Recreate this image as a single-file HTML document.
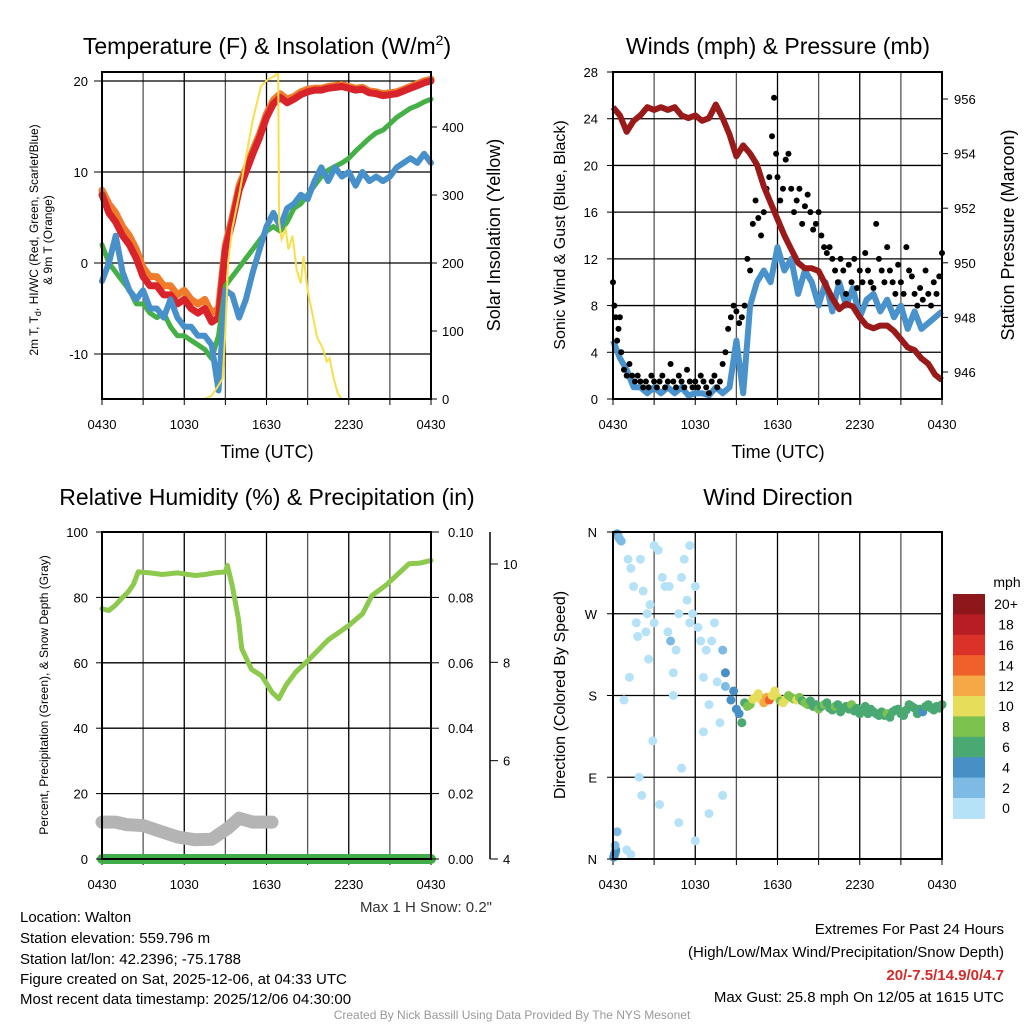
<!DOCTYPE html>
<html><head><meta charset="utf-8">
<style>
html,body{margin:0;padding:0;background:#fff;}
svg{display:block;font-family:"Liberation Sans",Arial,sans-serif;}
</style></head>
<body>
<svg id="fig" width="1024" height="1024" viewBox="0 0 1024 1024">
<rect x="0" y="0" width="1024" height="1024" fill="#fff"/>
<g font-size="23" text-anchor="middle" fill="#000">
<text x="267" y="54">Temperature (F) &amp; Insolation (W/m<tspan dy="-9" font-size="14">2</tspan><tspan dy="9">)</tspan></text>
<text x="778" y="54">Winds (mph) &amp; Pressure (mb)</text>
<text x="267" y="505">Relative Humidity (%) &amp; Precipitation (in)</text>
<text x="778" y="505">Wind Direction</text>
</g>
<g font-size="18" text-anchor="middle">
<text x="267" y="458">Time (UTC)</text>
<text x="778" y="458">Time (UTC)</text>
<text transform="translate(500,235) rotate(-90)">Solar Insolation (Yellow)</text>
<text transform="translate(1014,235) rotate(-90)">Station Pressure (Maroon)</text>
</g>
<g font-size="16" text-anchor="middle">
<text transform="translate(565,235) rotate(-90)">Sonic Wind &amp; Gust (Blue, Black)</text>
<text transform="translate(565,695) rotate(-90)">Direction (Colored By Speed)</text>
</g>
<g font-size="12" text-anchor="middle">
<text transform="translate(38,240) rotate(-90)">2m T, T<tspan font-size="9" dy="3">d</tspan><tspan dy="-3">, HI/WC (Red, Green, Scarlet/Blue)</tspan></text>
<text transform="translate(52,240) rotate(-90)">&amp; 9m T (Orange)</text>
<text transform="translate(48,695) rotate(-90)">Percent, Precipitation (Green), &amp; Snow Depth (Gray)</text>
</g>
<text x="492" y="912" font-size="15" text-anchor="end" fill="#333">Max 1 H Snow: 0.2"</text>
<g font-size="15" fill="#000">
<text x="20" y="922">Location: Walton</text>
<text x="20" y="943">Station elevation: 559.796 m</text>
<text x="20" y="964">Station lat/lon: 42.2396; -75.1788</text>
<text x="20" y="984">Figure created on Sat, 2025-12-06, at 04:33 UTC</text>
<text x="20" y="1004">Most recent data timestamp: 2025/12/06 04:30:00</text>
</g>
<g font-size="15" text-anchor="end">
<text x="1004" y="934">Extremes For Past 24 Hours</text>
<text x="1004" y="957">(High/Low/Max Wind/Precipitation/Snow Depth)</text>
<text x="1004" y="980" fill="#d42a2a" font-weight="bold">20/-7.5/14.9/0/4.7</text>
<text x="1004" y="1002">Max Gust: 25.8 mph On 12/05 at 1615 UTC</text>
</g>
<text x="512" y="1019" font-size="12" text-anchor="middle" fill="#999">Created By Nick Bassill Using Data Provided By The NYS Mesonet</text>
</svg>
<script>
// ---------- data ----------
const halfHours = [0,0.5,1,1.5,2,2.5,3,3.5,4,4.5,5,5.5,6,6.5,7,7.5,8,8.5,9,9.5,10,10.5,11,11.5,12,12.5,13,13.5,14,14.5,15,15.5,16,16.5,17,17.5,18,18.5,19,19.5,20,20.5,21,21.5,22,22.5,23,23.5,24];
const timeTickLabels = ["0430","1030","1630","2230","0430"];
const tempRed = [7.5,5.5,4.5,3,2,0.5,-1.5,-2.5,-2.5,-3.5,-3.5,-4.5,-4,-5,-5.5,-5,-6.5,-6,1.5,4.5,8,10,12,13.8,16,17.5,18.2,17.6,18,18.5,18.8,19,19,19.2,19.3,19.4,19.2,19.0,19.1,18.7,18.6,18.4,18.5,18.6,18.9,19.2,19.5,19.8,20];
const tempOrange = [8,6.5,5.5,4,3,1.5,-0.5,-1.5,-1.5,-2.5,-2.5,-3.5,-3,-4,-4.5,-4,-5.5,-5,2,5,8.5,10.4,12.4,14.2,16.4,17.9,18.6,18,18.3,18.8,19.1,19.2,19.2,19.4,19.5,19.6,19.4,19.2,19.3,18.9,18.8,18.6,18.7,18.8,19.1,19.4,19.7,20,20.2];
const tempGreen = [2,0,-1,-2,-3,-4.5,-4.5,-5.5,-6,-5.5,-7,-8,-8,-8.5,-9,-9.5,-10.5,-8,-2.5,-1.5,-0.5,0.5,1.5,2.5,3.5,4,3.5,4.5,6,6.5,7.5,8.5,9.5,10.2,10.6,11,11.5,12.3,13,13.7,14.3,14.6,15.3,16,16.5,17,17.3,17.7,18];
const tempBlue = [-2,0,3,-1,-3,-4,-3,-5,-5,-6,-4,-6,-7,-7,-8,-8,-9,-14,-3,-3.5,-6,-4,-1,1.5,4,5.5,4,6,6.5,7.5,7,9,10.5,9,10.5,9.5,10,8.5,10,9,9.5,9,9.5,10.5,11,11.5,11,12,11];
const solarTimes = [0,7.5,8,8.5,8.8,9.0,9.2,9.5,10,10.4,11,11.6,12.1,12.6,12.85,12.92,13.1,13.4,13.6,13.9,14.2,14.5,14.7,15.0,15.4,15.7,16.1,16.4,16.6,16.9,17.2,17.5,24];
const solarValues = [0,0,5,20,30,100,200,250,300,345,410,460,470,475,480,260,235,250,220,240,190,170,210,160,120,90,75,55,60,30,8,0,0];
const windSpeed = [5,3.5,2.5,1,1,0.5,1,0.5,1,0.5,1,0.3,0.5,0.5,0.3,1,0.5,1,5,0.5,8,10,11,10,13,11,12,9,11,10,8,10,7.5,10,8,9.5,7,8.5,9,7.5,8.5,7,8,6,7.5,6,6.5,7,7.5];
const pressure = [955.7,955.4,954.8,955.2,955.4,955.7,955.6,955.7,955.6,955.7,955.4,955.3,955.4,955.2,955.3,955.8,955.3,954.7,953.9,954.3,954.0,953.6,952.8,952.2,951.6,951.0,950.5,950.0,949.8,949.8,949.7,949.2,948.7,948.3,948.5,948.4,948.0,947.7,947.6,947.7,947.7,947.5,947.2,946.9,946.8,946.5,946.3,945.9,945.7];
const gustTimes = [0,0.1,0.2,0.3,0.4,0.5,0.6,0.8,1.0,1.2,1.4,1.6,1.8,2.0,2.2,2.4,2.6,2.8,3.0,3.2,3.4,3.6,3.8,4.0,4.2,4.4,4.6,4.8,5.0,5.2,5.4,5.6,5.8,6.0,6.2,6.4,6.6,6.8,7.0,7.2,7.4,7.6,7.8,8.0,8.2,8.4,8.6,8.8,9.0,9.2,9.4,9.6,9.8,10.0,10.2,10.4,10.6,10.8,11.0,11.2,11.4,11.6,11.75,11.9,12.0,12.2,12.4,12.6,12.8,13.0,13.2,13.4,13.6,13.8,14.0,14.2,14.4,14.6,14.8,15.0,15.2,15.4,15.6,15.8,16.0,16.2,16.4,16.6,16.8,17.0,17.2,17.4,17.6,17.8,18.0,18.2,18.4,18.6,18.8,19.0,19.2,19.4,19.6,19.8,20.0,20.2,20.4,20.6,20.8,21.0,21.2,21.4,21.6,21.8,22.0,22.2,22.4,22.6,22.8,23.0,23.2,23.4,23.6,23.8,24.0];
const gustValues = [10,8,7,5,6,7,4,2.5,2,3,2,1.5,2,1.5,1,1.5,1,2,1.5,1,1.5,2,1,1.5,3,1.5,1,2,1.5,1,2.5,1.5,1,1.5,1,2,1.5,1,0.5,1.5,2,1,1.5,3,4,6,7,8,7.5,6.5,7,8,12,11,15,17,15.5,14,16,18,19,22.5,25.8,21,19,17,18,20.5,21,18,16,17,18,15,16.5,17.5,16,14.5,15,16,14,13,12.5,13,12,11,10,12,11,9,11.5,10,12,9.5,11,10,12.5,11,10,9.5,15,12,11,10,13,11,10,9,11.5,10,9,13,11,10.5,9,8,9.5,8.5,11,9,8,10,9,10.5,12.5];
const rhTimes = [0,0.5,0.95,1.5,1.9,2.3,2.65,3.5,4.4,5.5,6.8,7.5,8.2,9.0,9.15,9.5,9.95,10.2,10.9,11.65,12.4,12.9,13.4,14.1,15.1,16.5,18,19,19.7,20.7,22.4,23.2,24];
const rhValues = [76.5,76,77.5,80,81.6,84,87.8,87.5,87,87.5,86.7,87,87.5,87.8,89.8,83.7,73.5,64.3,58,56,51,49,53,57,61,67,71.4,75,80.6,83.7,90.3,90.5,91.3];
const snowTimes = [0,1,1.8,3,4.4,5.5,6.8,8,9.2,10,11,12.4];
const snowDepth = [4.75,4.75,4.7,4.68,4.55,4.45,4.39,4.4,4.63,4.83,4.75,4.75];
const precipTimes = [0,24];
const precipValues = [0,0];
const dirTimes = [0.05,0.1,0.15,0.2,0.3,0.35,0.4,0.5,0.6,1.1,1.3,1.5,1.7,1.8,2.0,2.2,2.4,2.6,
0.3,0.2,0.15,0.1,1.0,1.3,
2.5,2.7,3.0,3.3,3.6,3.8,4.0,4.2,4.4,4.6,4.8,5.0,5.2,5.4,5.6,5.8,6.0,6.2,6.4,6.6,6.8,7.0,7.2,7.4,7.6,7.8,8.0,8.2,
3.4,4.8,6.0,2.9,1.9,2.1,4.4,6.6,5.0,7.0,8.0,0.8,1.2,3.0,4.1,5.6,8.2,
8.6,8.8,9.0,9.2,9.4,9.6,9.8,10.0,10.2,10.4,10.6,10.8,11.0,11.2,11.4,11.6,11.8,12.0,12.2,12.4,12.6,12.8,13.0,13.2,13.4,13.6,13.8,14.0,14.2,14.4,14.6,14.8,15.0,15.2,15.4,15.6,15.8,16.0,16.2,16.4,16.6,16.8,17.0,17.2,17.4,17.6,17.8,18.0,18.2,18.4,18.6,18.8,19.0,19.2,19.4,19.6,19.8,20.0,20.2,20.4,20.6,20.8,21.0,21.2,21.4,21.6,21.8,22.0,22.2,22.4,22.6,22.8,23.0,23.2,23.4,23.6,23.8,24.0];
const dirValues = [2,4,6,8,358,356,354,352,350,330,320,300,260,245,330,295,250,220,
30,10,15,5,10,5,
270,280,345,340,310,300,250,240,205,230,270,310,330,285,260,270,300,255,240,200,230,170,240,260,195,150,230,205,
60,40,20,130,90,70,180,140,100,50,70,175,200,260,300,345,190,
175,185,165,160,150,172,168,170,176,178,182,176,172,178,175,180,185,178,174,172,176,180,178,176,175,178,174,172,170,174,168,170,165,168,170,172,166,164,168,170,162,166,168,165,170,163,166,160,164,168,160,165,162,160,158,162,158,160,156,162,164,165,160,158,164,170,168,166,160,165,162,168,170,166,164,168,166,170];
const dirSpeeds = [4,4,3.5,3,4,4,3.5,3,2.5,1,1,1,1,1,0.5,1,0.5,1,
3,4,3.5,4,1,0.5,
0.5,1,1,0.5,1,0.5,1,3,1,0.5,1,0.5,0.5,1,1,0.5,1,0.5,1,0.5,1,0.5,1,0.5,1,1.5,3,4,
0.5,1,0.5,1,0.5,1,0.5,1,0.5,1,0.5,1,0.5,1,1,1,2,
4,5,4,5,6,7,8,9,10,10,10.5,11,12,13,14,11,10,10,9,10,10.5,8,8.5,9,10,8,7,8,8,7.5,7,6.5,8,7,9,7,6.5,7,8,7.5,6,7,6.5,7,8,7,6,7,6.5,7.5,7,6,6.5,7,6,6.5,7,8,6.5,7,7.5,6,6.5,7,6,7,6.5,7,6,7,5,7,6.5,7,6,7,6.5,7];
const speedBinLabels = ["20+","18","16","14","12","10","8","6","4","2","0"];
const speedBinColors = ["#8e171b","#b81d24","#da3228","#f0602a","#f6a846","#e6de5a","#7cc24e","#4aa872","#4790c6","#7ebbe4","#b5e2f7"];

// ---------- helpers ----------
const NS = "http://www.w3.org/2000/svg";
const svg = document.getElementById("fig");
function mk(tag, attrs, parent) {
  const e = document.createElementNS(NS, tag);
  for (const k in attrs) e.setAttribute(k, attrs[k]);
  (parent || svg).appendChild(e);
  return e;
}
function linScale(d0, d1, r0, r1) { return v => r0 + (v - d0) * (r1 - r0) / (d1 - d0); }
function pathFrom(xs, ys, sx, sy) {
  let d = "";
  for (let i = 0; i < xs.length; i++) d += (i ? "L" : "M") + sx(xs[i]).toFixed(1) + "," + sy(ys[i]).toFixed(1);
  return d;
}

const P = {
  temp: {x0:102, x1:431, y0:72, y1:399},
  wind: {x0:613, x1:942, y0:72, y1:399},
  rh:   {x0:102, x1:431, y0:532, y1:859},
  dir:  {x0:613, x1:942, y0:532, y1:859}
};

function drawFrame(p, name, hTicks) {
  const sx = linScale(0, 24, p.x0, p.x1);
  const g = mk("g", {});
  
  
  for (let h = 3; h < 24; h += 3) {
    const x = sx(h);
    const l = mk("line", {x1:x, x2:x, y1:p.y0, y2:p.y1, stroke: (h % 6 === 0) ? "#000" : "#555", "stroke-width": 1.3}, g);
    
    
  }
  hTicks.forEach(y => {
    const l = mk("line", {x1:p.x0, x2:p.x1, y1:y, y2:y, stroke:"#000", "stroke-width":1.3}, g);
    
    
  });
  for (let i = 0; i < 5; i++) {
    const x = sx(i * 6);
    const t = mk("text", {x:x, y:p.y1 + 30, "font-size":13, "text-anchor":"middle"}, g);
    t.textContent = timeTickLabels[i];
    
    
  }
  for (let h = 0; h <= 24; h += 3) {
    const x = sx(h);
    mk("line", {x1:x, x2:x, y1:p.y1, y2:p.y1 + 6, stroke:"#000", "stroke-width":1}, g);
  }
  return {sx, g};
}
function drawBorder(p, name) {
  const r = mk("rect", {x:p.x0, y:p.y0, width:p.x1 - p.x0, height:p.y1 - p.y0, fill:"none", stroke:"#000", "stroke-width":2});
  
  
}
function yAxisLabels(vals, sy, x, anchor, name, fmt) {
  vals.forEach(v => {
    const t = mk("text", {x:x, y:sy(v) + 5, "font-size":13, "text-anchor":anchor});
    t.textContent = fmt ? fmt(v) : String(v);
    
    
  });
}
function ticks(vals, sy, x, len) {
  vals.forEach(v => mk("line", {x1:x, x2:x + len, y1:sy(v), y2:sy(v), stroke:"#000", "stroke-width":1}));
}

// ---------- Panel 1: temperature ----------
(function () {
  const p = P.temp;
  const syT = linScale(0, 10, 263, 172);
  const syS = linScale(0, 100, 399, 331);
  const tTicks = [20, 10, 0, -10];
  const {sx} = drawFrame(p, "temp", tTicks.map(syT));
  const series = [
    [tempOrange, "#f07b2a", 7, "temp-9m-orange-line"],
    [tempRed, "#d8232a", 7, "temp-2m-red-line"],
    [tempGreen, "#44b046", 5, "dewpoint-green-line"],
    [tempBlue, "#4790c9", 6, "windchill-blue-line"]
  ];
  series.forEach(s => {
    const e = mk("path", {d:pathFrom(halfHours, s[0], sx, syT), fill:"none", stroke:s[1], "stroke-width":s[2], "stroke-linejoin":"round", "stroke-linecap":"round"});
    
    
  });
  const y = mk("path", {d:pathFrom(solarTimes, solarValues, sx, syS), fill:"none", stroke:"#f8df4a", "stroke-width":2});
  
  
  drawBorder(p, "temp");
  yAxisLabels(tTicks, syT, 88, "end", "temp-y-tick-label");
  ticks(tTicks, syT, p.x0 - 8, 8);
  const sTicks = [0, 100, 200, 300, 400];
  yAxisLabels(sTicks, syS, 442, "start", "solar-y-tick-label");
  ticks(sTicks, syS, p.x1, 6);
})();

// ---------- Panel 2: wind ----------
(function () {
  const p = P.wind;
  const syW = linScale(0, 28, 399, 72);
  const syP = linScale(946, 956, 372, 99);
  const wTicks = [0, 4, 8, 12, 16, 20, 24, 28];
  const {sx} = drawFrame(p, "wind", wTicks.map(syW));
  const w = mk("path", {d:pathFrom(halfHours, windSpeed, sx, syW), fill:"none", stroke:"#4a92cc", "stroke-width":6, "stroke-linejoin":"round"});
  
  
  const g = mk("g", {fill:"#000"});
  
  
  gustTimes.forEach((t, i) => {
    const c = mk("circle", {cx:sx(t), cy:syW(gustValues[i]), r:3}, g);
    
    
  });
  const pr = mk("path", {d:pathFrom(halfHours, pressure, sx, syP), fill:"none", stroke:"#9a1a1a", "stroke-width":6, "stroke-linejoin":"round"});
  
  
  drawBorder(p, "wind");
  yAxisLabels(wTicks, syW, 598, "end", "wind-y-tick-label");
  ticks(wTicks, syW, p.x0 - 6, 6);
  const pTicks = [946, 948, 950, 952, 954, 956];
  yAxisLabels(pTicks, syP, 954, "start", "pressure-y-tick-label");
  ticks(pTicks, syP, p.x1, 6);
})();

// ---------- Panel 3: RH ----------
(function () {
  const p = P.rh;
  const syR = linScale(0, 100, 859, 532);
  const syPr = linScale(0, 0.1, 859, 532);
  const sySn = linScale(4, 10, 859, 564);
  const rTicks = [0, 20, 40, 60, 80, 100];
  const {sx} = drawFrame(p, "rh", rTicks.map(syR));
  const sn = mk("path", {d:pathFrom(snowTimes, snowDepth, sx, sySn), fill:"none", stroke:"#b4b4b4", "stroke-width":13, "stroke-linecap":"round", "stroke-linejoin":"round"});
  
  
  const pc = mk("path", {d:pathFrom(precipTimes, precipValues, sx, syPr), fill:"none", stroke:"#41ad48", "stroke-width":10, "stroke-linecap":"round"});
  
  
  const rh = mk("path", {d:pathFrom(rhTimes, rhValues, sx, syR), fill:"none", stroke:"#8cc94c", "stroke-width":5, "stroke-linejoin":"round", "stroke-linecap":"round"});
  
  
  drawBorder(p, "rh");
  yAxisLabels(rTicks, syR, 88, "end", "rh-y-tick-label");
  ticks(rTicks, syR, p.x0 - 6, 6);
  const prTicks = [0, 0.02, 0.04, 0.06, 0.08, 0.1];
  yAxisLabels(prTicks, syPr, 448, "start", "precip-y-tick-label", v => v.toFixed(2));
  ticks(prTicks, syPr, p.x1, 8);
  const ax = mk("line", {x1:490, x2:490, y1:532, y2:859, stroke:"#000", "stroke-width":1.5});
  
  
  const snTicks = [4, 6, 8, 10];
  yAxisLabels(snTicks, sySn, 503, "start", "snow-y-tick-label");
  ticks(snTicks, sySn, 490, 8);
})();

// ---------- Panel 4: wind direction ----------
(function () {
  const p = P.dir;
  const syD = linScale(0, 360, 859, 532);
  const dTicks = [0, 90, 180, 270, 360];
  const dLabels = ["N", "E", "S", "W", "N"];
  const {sx} = drawFrame(p, "dir", dTicks.map(syD));
  const g = mk("g", {});
  
  
  const n = Math.min(dirTimes.length, dirValues.length, dirSpeeds.length);
  for (let i = 0; i < n; i++) {
    const bin = Math.min(10, Math.floor(dirSpeeds[i] / 2));
    const c = mk("circle", {cx:sx(dirTimes[i]), cy:syD(dirValues[i]), r:4.5, fill:speedBinColors[10 - bin]}, g);
    
    
  }
  drawBorder(p, "dir");
  dTicks.forEach((v, i) => {
    const t = mk("text", {x:597, y:syD(v) + 5, "font-size":13, "text-anchor":"end"});
    t.textContent = dLabels[i];
    
    
  });
  ticks(dTicks, syD, p.x0 - 6, 6);
  const cb = mk("g", {});
  
  
  const top = 594, h = 20.4;
  speedBinLabels.forEach((lab, i) => {
    const r = mk("rect", {x:953, y:top + i * h, width:32, height:h + 0.5, fill:speedBinColors[i]}, cb);
    
    
    const t = mk("text", {x:1006, y:top + i * h + h / 2 + 5, "font-size":14, "text-anchor":"middle"}, cb);
    t.textContent = lab;
    
    
  });
  const u = mk("text", {x:1007, y:587, "font-size":14, "text-anchor":"middle"}, cb);
  u.textContent = "mph";
  
  
})();
</script>
</body></html>
